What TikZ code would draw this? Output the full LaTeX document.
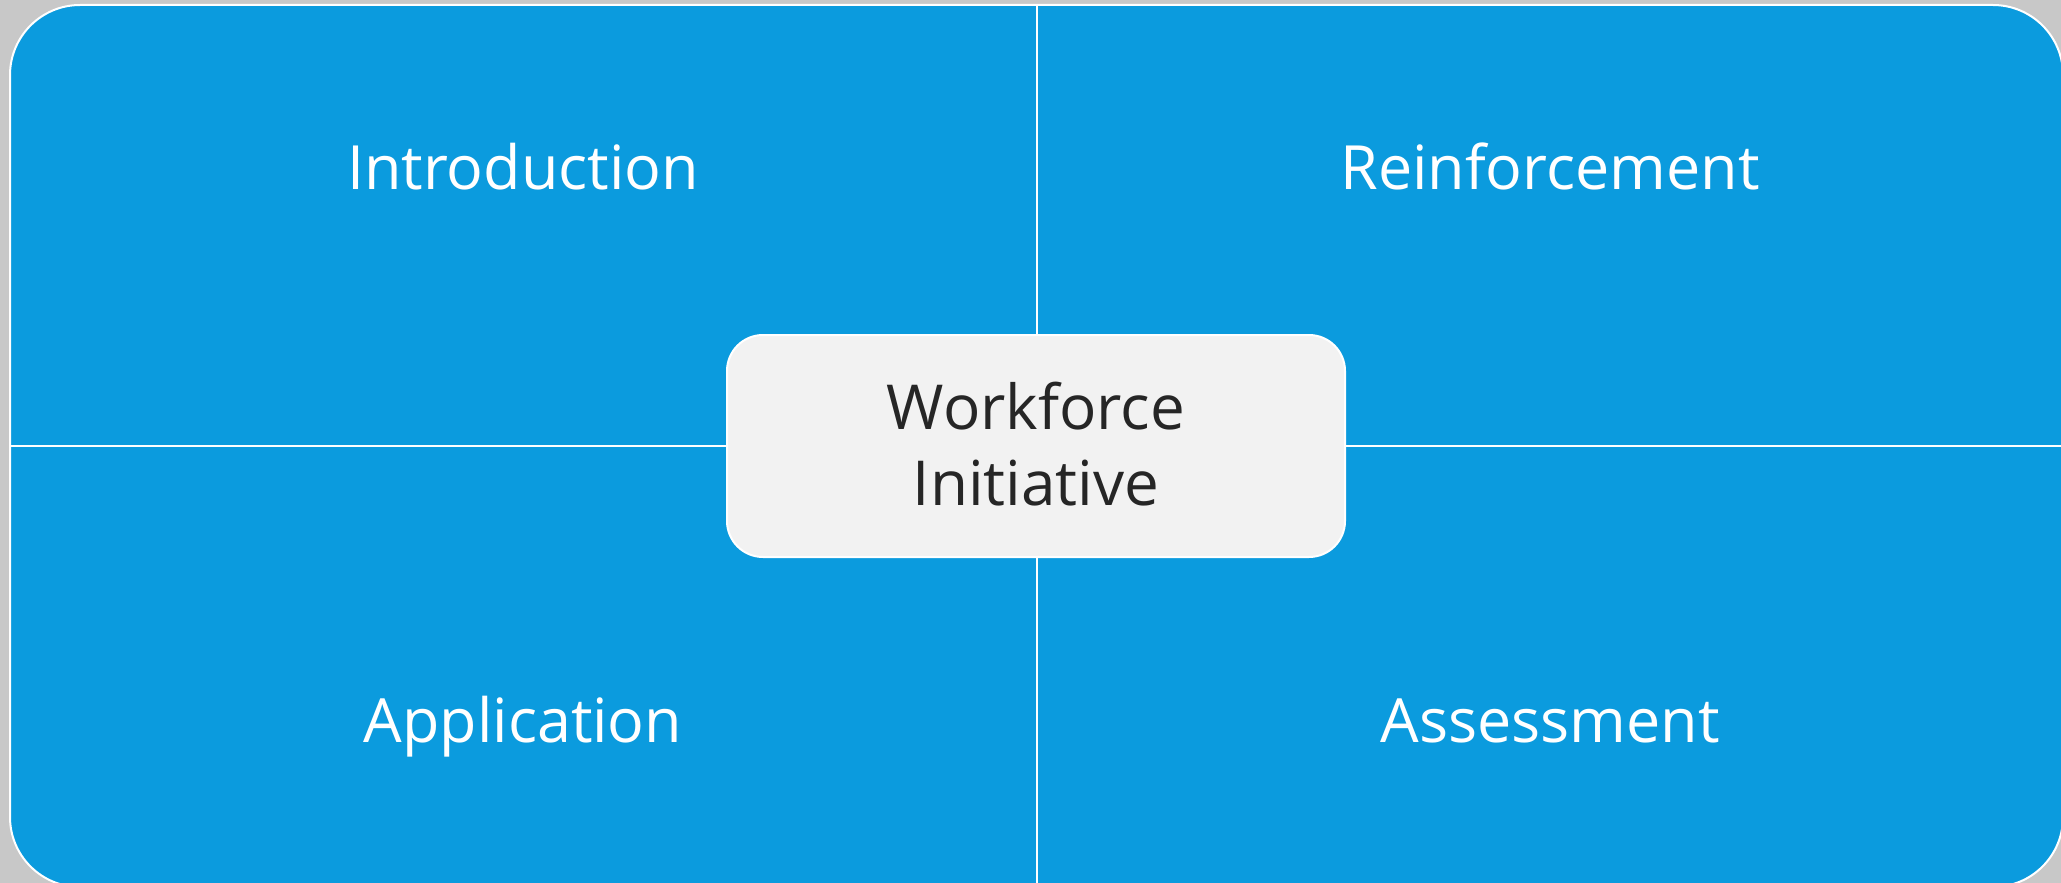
\documentclass[tikz,border=0pt]{standalone}
\usepackage{fontspec}
\setmainfont{Open Sans}
\usetikzlibrary{positioning}
\definecolor{panelblue}{RGB}{11,155,222}
\definecolor{pagegray}{RGB}{200,200,200}
\definecolor{hubgray}{RGB}{242,242,242}
\definecolor{hubtext}{RGB}{38,38,38}

\begin{document}
\begin{tikzpicture}[x=0.5pt, y=-0.5pt,
    quad/.style={anchor=base, text=white, font=\fontsize{30.5}{36}\selectfont},
    hub/.style={draw=white, line width=1pt, fill=hubgray, rounded corners=18pt, minimum width=309pt, minimum height=111pt, text=hubtext, align=center, font=\fontsize{31}{38}\selectfont},
    divider/.style={white, line width=1pt}]
    % Page
    \path[fill=pagegray] (0,0) rectangle (2061,883);
    \useasboundingbox (0,0) rectangle (2061,883);
    \clip (0,0) rectangle (2061,883);
    \draw[white, line width=1pt, fill=panelblue, rounded corners=35pt] (10,5) rectangle (2063,887);

    % Quadrant lines
    \coordinate (top) at (1037,5);
    \coordinate (bottom) at (1037,887);
    \coordinate (left) at (10,446);
    \coordinate (right) at (2063,446);
    \draw[divider] (top) -- (bottom);
    \draw[divider] (left) -- (right);

    % Quadrants
    \node[quad] (intro) at (523,190) {Introduction};
    \node[quad] (reinforce) at (1550,190) {Reinforcement};
    \node[quad] (apply) at (523,742) {Application};
    \node[quad] (assess) at (1550,742) {Assessment};

    % Center
    \node[hub] (initiative) at (1036,446) {\raisebox{2pt}{Workforce}\\\raisebox{2pt}{Initiative}};
\end{tikzpicture}
\end{document}
